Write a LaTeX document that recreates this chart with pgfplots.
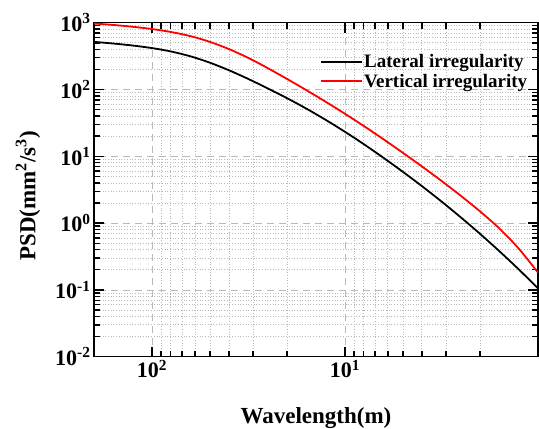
\documentclass[border=0pt]{standalone}
\usepackage{fontspec}
\setmainfont{Liberation Serif}
\usepackage{pgfplots}
\pgfplotsset{compat=1.18}

% wavelength (m) vs PSD
\pgfplotstableread{
lam psd
1 0.1057
1.259 0.2032
1.585 0.3793
1.995 0.6887
2.512 1.219
3.162 2.104
3.981 3.548
5.012 5.848
6.310 9.462
7.943 15.00
10 23.23
12.59 35.08
15.85 51.64
19.95 73.96
25.12 103.7
31.62 143.2
39.81 193.2
50.12 251.8
63.10 313.3
79.43 369.8
100 416.9
125.9 455.0
158.5 487.5
200 516.4
}\lateral
\pgfplotstableread{
lam psd
1 0.1816
1.259 0.4159
1.585 0.8299
1.995 1.493
2.512 2.564
3.162 4.276
3.981 6.998
5.012 11.27
6.310 17.91
7.943 28.05
10 43.25
12.59 65.46
15.85 97.50
19.95 143.5
25.12 208.4
31.62 295.8
39.81 400.9
50.12 516.4
63.10 628.1
79.43 724.4
100 803.5
125.9 869.0
158.5 924.7
200 973
}\vertical

\begin{document}
\begin{tikzpicture}
\begin{axis}[
  name=ax,
  scale only axis, width=444pt, height=334pt,
  xmode=log, ymode=log, x dir=reverse,
  xmin=1, xmax=200, ymin=1e-2, ymax=1e3,
  xtick={100,10},
  xticklabels={10\textsuperscript{2},10\textsuperscript{1}},
  minor xtick={2,3,4,5,6,7,8,9,20,30,40,50,60,70,80,90},
  ytick={0.01,0.1,1,10,100,1000},
  yticklabels={10\textsuperscript{-2},10\textsuperscript{-1},10\textsuperscript{0},10\textsuperscript{1},10\textsuperscript{2},10\textsuperscript{3}},
  minor ytick={0.02,0.03,0.04,0.05,0.06,0.07,0.08,0.09,
    0.2,0.3,0.4,0.5,0.6,0.7,0.8,0.9,2,3,4,5,6,7,8,9,
    20,30,40,50,60,70,80,90,200,300,400,500,600,700,800,900},
  grid=both,
  major grid style={gray!55, line width=0.8pt, dash pattern=on 7pt off 5pt},
  minor grid style={gray!55, line width=0.7pt, dotted},
  tick align=inside,
  major tick length=10pt, minor tick length=6pt,
  every tick/.style={black, line width=1.4pt},
  axis line style={line width=1.5pt},
  ticklabel style={font=\fontsize{22}{26}\selectfont\bfseries},
  xlabel={Wavelength(m)},
  ylabel={PSD(mm\textsuperscript{2}/s\textsuperscript{3})},
  xlabel shift=22pt, ylabel shift=8pt,
  ylabel style={xshift=-6pt},
  label style={font=\fontsize{23}{27}\selectfont\bfseries},
  legend style={at={(0.985,0.915)}, anchor=north east, draw=none, fill=none,
    font=\fontsize{19}{22}\selectfont\bfseries, row sep=3pt,
    nodes={inner sep=1pt}},
  legend cell align=left,
  legend image code/.code={\draw[#1] (0pt,0pt) -- (41pt,0pt);},
]
\addplot[black, line width=1.8pt, smooth] table[x=lam, y=psd] {\lateral};
\addlegendentry{Lateral irregularity}
\addplot[red, line width=1.8pt, smooth] table[x=lam, y=psd] {\vertical};
\addlegendentry{Vertical irregularity}
\end{axis}
\pgfresetboundingbox
\path ([xshift=-94pt,yshift=-71.3pt]ax.south west) rectangle ([xshift=1pt,yshift=22.7pt]ax.north east);
\end{tikzpicture}
\end{document}
